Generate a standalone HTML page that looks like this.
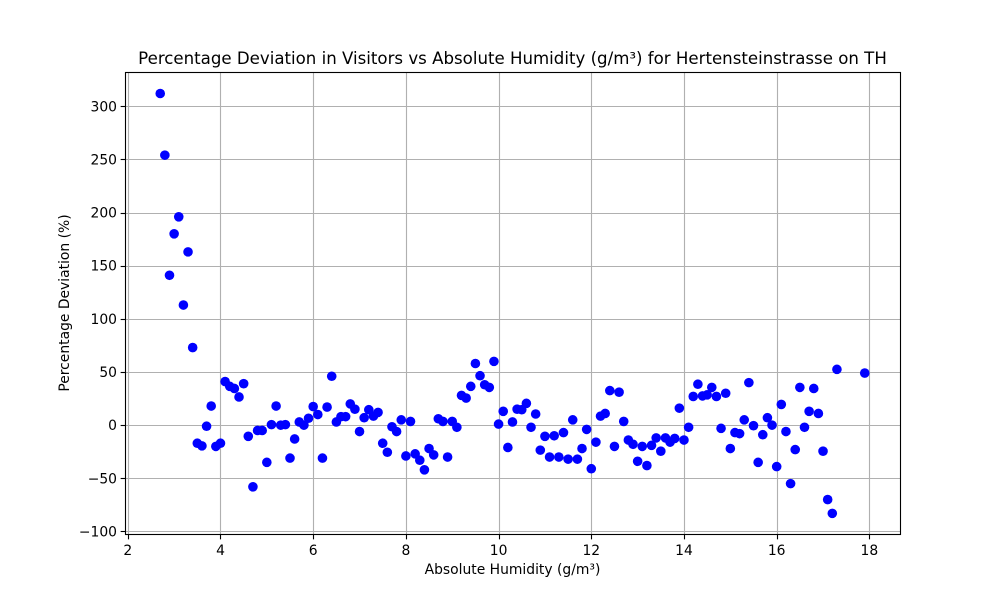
<!DOCTYPE html>
<html lang="en">
<head>
<meta charset="utf-8">
<title>Percentage Deviation in Visitors vs Absolute Humidity</title>
<style>
html,body{margin:0;padding:0;background:#fff;}
svg{display:block;font-family:"DejaVu Sans",sans-serif;fill:#000;}
</style>
</head>
<body>
<svg id="chart" xmlns="http://www.w3.org/2000/svg" width="1000" height="600" viewBox="0 0 1000 600">
<rect x="0" y="0" width="1000" height="600" fill="#ffffff"/>
<text x="512.5" y="64" font-size="16.62" text-anchor="middle">Percentage Deviation in Visitors vs Absolute Humidity (g/m³) for Hertensteinstrasse on TH</text>
<text x="512.5" y="574" font-size="13.89" text-anchor="middle">Absolute Humidity (g/m³)</text>
<text transform="translate(69 303) rotate(-90)" font-size="13.89" text-anchor="middle">Percentage Deviation (%)</text>
<g id="grid"></g>
<g id="points"></g>
<g id="axes"></g>
</svg>
<script>
const humidity = [2.7,2.8,2.9,3.0,3.1,3.2,3.3,3.4,3.5,3.6,3.7,3.8,3.9,4.0,4.1,4.2,4.3,4.4,4.5,4.6,4.7,4.8,4.9,5.0,5.1,5.2,5.3,5.4,5.5,5.6,5.7,5.8,5.9,6.0,6.1,6.2,6.3,6.4,6.5,6.6,6.7,6.8,6.9,7.0,7.1,7.2,7.3,7.4,7.5,7.6,7.7,7.8,7.9,8.0,8.1,8.2,8.3,8.4,8.5,8.6,8.7,8.8,8.9,9.0,9.1,9.2,9.3,9.4,9.5,9.6,9.7,9.8,9.9,10.0,10.1,10.2,10.3,10.4,10.5,10.6,10.7,10.8,10.9,11.0,11.1,11.2,11.3,11.4,11.5,11.6,11.7,11.8,11.9,12.0,12.1,12.2,12.3,12.4,12.5,12.6,12.7,12.8,12.9,13.0,13.1,13.2,13.3,13.4,13.5,13.6,13.7,13.8,13.9,14.0,14.1,14.2,14.3,14.4,14.5,14.6,14.7,14.8,14.9,15.0,15.1,15.2,15.3,15.4,15.5,15.6,15.7,15.8,15.9,16.0,16.1,16.2,16.3,16.4,16.5,16.6,16.7,16.8,16.9,17.0,17.1,17.2,17.3,17.9];
const deviation = [312,254,141,180,196,113,163,73,-17,-19.5,-1,18,-20,-17,41,36.5,34.5,26.5,39,-10.5,-58,-5,-5,-35,0.5,18,0,0.5,-31,-13,3,0,6.5,17.5,10,-31,17,46,3,8,8,20,15,-6,7,14.5,8.5,12,-17,-25.5,-1.5,-6,5,-29,3.5,-27,-33,-42,-22,-28,6,3.5,-30,3.5,-2,28,25.5,36.5,58,46.5,38,35.5,60,1,13,-21,3,15,14.5,20.5,-2,10.5,-23.5,-10.5,-30,-10,-30,-7,-32,5,-32,-22,-4,-41,-16,8.5,11,32.5,-20,31,3.5,-14,-18,-34,-20,-38,-19,-12,-24.5,-12,-16,-12.5,16,-14,-2,27,38.5,27.5,28.5,35.5,27,-3,30,-22,-7,-8,5,40,-0.5,-35,-9,7,0,-39,19.5,-6,-55,-23,35.5,-2,13,34.5,11,-24.5,-70,-83,52.5,49];
const xTickValues = [2,4,6,8,10,12,14,16,18];
const yTickValues = [-100,-50,0,50,100,150,200,250,300];

const plotLeft = 125.5, plotRight = 900.5, plotTop = 72.5, plotBottom = 534.5;
const NS = 'http://www.w3.org/2000/svg';
function xScale(v){ return 127.78 + (v - 2) * 46.35; }
function yScale(v){ return 425.15 - v * 1.063; }
function snap(p){ return Math.round(p) + 0.5; }
function make(tag, attrs, parent){
  const el = document.createElementNS(NS, tag);
  for (const k in attrs) el.setAttribute(k, attrs[k]);
  parent.appendChild(el);
  return el;
}
const gridG = document.getElementById('grid');
const pointsG = document.getElementById('points');
const axesG = document.getElementById('axes');
const gridStyle = {stroke:'#b0b0b0','stroke-width':1.11};
const tickStyle = {stroke:'#000','stroke-width':1.11};

xTickValues.forEach(function(t){
  const x = snap(xScale(t));
  const g = make('line', Object.assign({x1:x,x2:x,y1:plotTop,y2:plotBottom}, gridStyle), gridG);
  
  
  const m = make('line', Object.assign({x1:x,x2:x,y1:plotBottom,y2:plotBottom+4.86}, tickStyle), axesG);
  
  
  const l = make('text', {x:xScale(t),y:555,'font-size':13.89,'text-anchor':'middle'}, axesG);
  
  
  l.textContent = String(t);
});
yTickValues.forEach(function(t){
  const y = snap(yScale(t));
  const g = make('line', Object.assign({x1:plotLeft,x2:plotRight,y1:y,y2:y}, gridStyle), gridG);
  
  
  const m = make('line', Object.assign({x1:plotLeft-4.86,x2:plotLeft,y1:y,y2:y}, tickStyle), axesG);
  
  
  const l = make('text', {x:plotLeft-8.5,y:yScale(t)+5,'font-size':13.89,'text-anchor':'end'}, axesG);
  
  
  l.textContent = String(t).replace('-', '\u2212');
});
humidity.forEach(function(h, i){
  const c = make('circle', {cx:xScale(h),cy:yScale(deviation[i]),r:4.8,fill:'#0000ff'}, pointsG);
  
  
});
const frame = make('rect', {x:plotLeft,y:plotTop,width:plotRight-plotLeft,height:plotBottom-plotTop,fill:'none',stroke:'#000','stroke-width':1.11}, axesG);


</script>
</body>
</html>
